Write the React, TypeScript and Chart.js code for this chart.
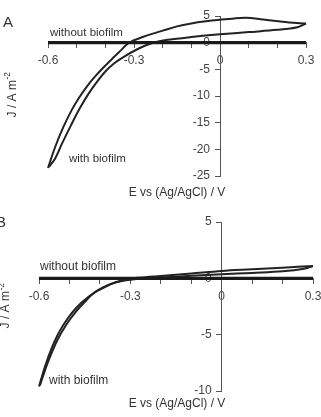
import React, { useEffect, useRef } from "react";
import { Chart, registerables } from "chart.js";
Chart.register(...registerables);

const FONT = '"Liberation Sans", Arial, Helvetica, sans-serif';

// ---- Panel A: with biofilm, forward scan (cathodic tip -> +0.3 V)
const aFwdE = [-0.6, -0.576, -0.547, -0.517, -0.49, -0.46, -0.43, -0.4, -0.37, -0.345, -0.32, -0.3, -0.27, -0.24, -0.2, -0.15, -0.1, -0.05, 0, 0.05, 0.09, 0.13, 0.18, 0.24, 0.3];
const aFwdJ = [-23.5, -19.7, -15.9, -12.6, -10.2, -7.9, -6.0, -4.3, -2.7, -1.4, -0.1, 0.45, 1.05, 1.6, 2.25, 3.05, 3.6, 4.0, 4.3, 4.55, 4.65, 4.5, 4.15, 3.8, 3.6];
// ---- Panel A: with biofilm, reverse scan (+0.3 V -> cathodic tip)
const aRevE = [0.3, 0.27, 0.2, 0.1, 0, -0.1, -0.18, -0.233, -0.28, -0.337, -0.37, -0.4, -0.43, -0.46, -0.49, -0.52, -0.55, -0.575, -0.597];
const aRevJ = [3.6, 2.9, 2.4, 1.98, 1.56, 1.05, 0.55, 0, -1.0, -2.7, -3.9, -5.4, -7.4, -9.7, -12.4, -15.5, -18.8, -21.7, -23.3];
// ---- Panel A: without biofilm
const aBlankE = [-0.6, 0.3];
const aBlankJ = [0, 0];

// ---- Panel B: with biofilm, forward scan
const bFwdE = [-0.6, -0.58, -0.56, -0.54, -0.52, -0.5, -0.48, -0.46, -0.44, -0.42, -0.4, -0.37, -0.34, -0.3, -0.25, -0.2, -0.1, 0, 0.1, 0.2, 0.3];
const bFwdJ = [-9.6, -7.8, -6.3, -5.1, -4.15, -3.35, -2.7, -2.15, -1.7, -1.3, -1.0, -0.6, -0.28, -0.03, 0.1, 0.2, 0.42, 0.65, 0.8, 0.95, 1.1];
// ---- Panel B: with biofilm, reverse scan
const bRevE = [0.3, 0.27, 0.2, 0.1, 0, -0.1, -0.2, -0.28, -0.32, -0.36, -0.39, -0.42, -0.45, -0.48, -0.51, -0.54, -0.57, -0.597];
const bRevJ = [1.1, 0.85, 0.62, 0.48, 0.36, 0.22, 0.08, -0.05, -0.2, -0.45, -0.8, -1.3, -2.1, -3.0, -4.1, -5.5, -7.4, -9.5];
// ---- Panel B: without biofilm
const bBlankE = [-0.6, 0.3];
const bBlankJ = [0, 0];

// axes
const xRange = [-0.6, 0.3];
const xLabelEvery = 3; // label every 0.3 V, ticks every 0.1 V
const aYRange = [-25, 5];
const bYRange = [-10, 5];
const yStep = 5;

const xTitle = "E vs (Ag/AgCl) / V";
const yTitleMain = "J / A m";
const yTitleSup = "-2";
const labelWithout = "without biofilm";
const labelWith = "with biofilm";

const pts = (xs: number[], ys: number[]) => xs.map((x, i) => ({ x, y: ys[i] }));

type TextItem = {
  text: string;
  x: number;
  y: number;
  size: number;
  align?: CanvasTextAlign;
  rotate?: boolean;
  sup?: string;
};

const textPlugin = {
  id: "panelText",
  afterDraw(chart: any, _args: any, opts: any) {
    const ctx: CanvasRenderingContext2D = chart.ctx;
    const items: TextItem[] = opts.items || [];
    for (const t of items) {
      ctx.save();
      ctx.fillStyle = "#333";
      ctx.textBaseline = "alphabetic";
      ctx.translate(t.x, t.y);
      if (t.rotate) ctx.rotate(-Math.PI / 2);
      ctx.font = `${t.size}px ${FONT}`;
      if (t.sup) {
        const wMain = ctx.measureText(t.text).width;
        ctx.font = `${t.size * 0.7}px ${FONT}`;
        const wSup = ctx.measureText(t.sup).width;
        const start = -(wMain + wSup) / 2;
        ctx.font = `${t.size}px ${FONT}`;
        ctx.textAlign = "left";
        ctx.fillText(t.text, start, 0);
        ctx.font = `${t.size * 0.7}px ${FONT}`;
        ctx.fillText(t.sup, start + wMain + 0.5, -t.size * 0.45);
      } else {
        ctx.textAlign = t.align || "left";
        ctx.fillText(t.text, 0, 0);
      }
      ctx.restore();
    }
  },
};

function buildConfig(p: {
  fwdE: number[]; fwdJ: number[]; revE: number[]; revJ: number[];
  blankE: number[]; blankJ: number[]; yRange: number[];
  padding: { left: number; right: number; top: number; bottom: number };
  texts: TextItem[];
}): any {
  const curve = (data: any) => ({
    data,
    showLine: true,
    borderColor: "#222",
    borderWidth: 2,
    pointRadius: 0,
    tension: 0.35,
    fill: false,
    clip: false,
  });
  return {
    type: "scatter",
    data: {
      datasets: [
        { ...curve(pts(p.blankE, p.blankJ)), borderWidth: 3.2, tension: 0, borderColor: "#1a1a1a" },
        curve(pts(p.fwdE, p.fwdJ)),
        curve(pts(p.revE, p.revJ)),
      ],
    },
    options: {
      responsive: false,
      animation: false,
      layout: { padding: p.padding },
      plugins: {
        legend: { display: false },
        tooltip: { enabled: false },
        panelText: { items: p.texts },
      },
      scales: {
        x: {
          type: "linear",
          position: { y: 0 },
          min: xRange[0],
          max: xRange[1],
          ticks: {
            stepSize: 0.1,
            color: "#444",
            font: { family: FONT, size: 12 },
            padding: 6,
            maxRotation: 0,
            autoSkip: false,
            callback: (v: number) => {
              const k = Math.round(v * 10);
              if (k % xLabelEvery !== 0) return "";
              return k === 0 ? "0" : (k / 10).toFixed(1);
            },
          },
          grid: { drawOnChartArea: false, drawTicks: true, tickLength: 5, color: "#555", lineWidth: 1 },
          border: { display: true, color: "#555", width: 1 },
        },
        y: {
          type: "linear",
          position: { x: 0 },
          min: p.yRange[0],
          max: p.yRange[1],
          ticks: {
            stepSize: yStep,
            color: "#444",
            font: { family: FONT, size: 12 },
            // labels of an axis placed at a value sit right at the axis line,
            // so trailing spaces keep them clear of the tick marks
            callback: (v: number) => `${v}   `,
          },
          grid: { drawOnChartArea: false, drawTicks: true, tickLength: 5, color: "#555", lineWidth: 1 },
          border: { display: true, color: "#555", width: 1 },
        },
      },
    },
    plugins: [textPlugin],
  };
}

export default function App() {
  const refA = useRef<HTMLCanvasElement>(null);
  const refB = useRef<HTMLCanvasElement>(null);

  useEffect(() => {
    const a = new Chart(
      refA.current!,
      buildConfig({
        fwdE: aFwdE, fwdJ: aFwdJ, revE: aRevE, revJ: aRevJ,
        blankE: aBlankE, blankJ: aBlankJ, yRange: aYRange,
        padding: { left: 48, right: 15, top: 16, bottom: 29 },
        texts: [
          { text: "A", x: 3, y: 27, size: 15 },
          { text: labelWithout, x: 50, y: 36, size: 11.5 },
          { text: labelWith, x: 69, y: 162, size: 11.5 },
          { text: xTitle, x: 177, y: 196, size: 12, align: "center" },
          { text: yTitleMain, sup: yTitleSup, x: 15.5, y: 95, size: 12, rotate: true },
        ],
      })
    );
    const b = new Chart(
      refB.current!,
      buildConfig({
        fwdE: bFwdE, fwdJ: bFwdJ, revE: bRevE, revJ: bRevJ,
        blankE: bBlankE, blankJ: bBlankJ, yRange: bYRange,
        padding: { left: 39, right: 27, top: 17, bottom: 26 },
        texts: [
          { text: "B", x: -4, y: 22, size: 15 },
          { text: labelWithout, x: 40, y: 65, size: 12 },
          { text: labelWith, x: 49, y: 179, size: 12 },
          { text: xTitle, x: 177, y: 202, size: 12, align: "center" },
          { text: yTitleMain, sup: yTitleSup, x: 9, y: 101, size: 12, rotate: true },
        ],
      })
    );
    return () => {
      a.destroy();
      b.destroy();
    };
  }, []);

  return (
    <div
      style={{
        position: "absolute",
        left: 0,
        top: 0,
        width: 321,
        height: 417,
        overflow: "hidden",
        background: "#fff",
      }}
    >
      <canvas ref={refA} width={321} height={205} style={{ position: "absolute", left: 0, top: 0 }} />
      <canvas ref={refB} width={340} height={212} style={{ position: "absolute", left: 0, top: 205 }} />
    </div>
  );
}
